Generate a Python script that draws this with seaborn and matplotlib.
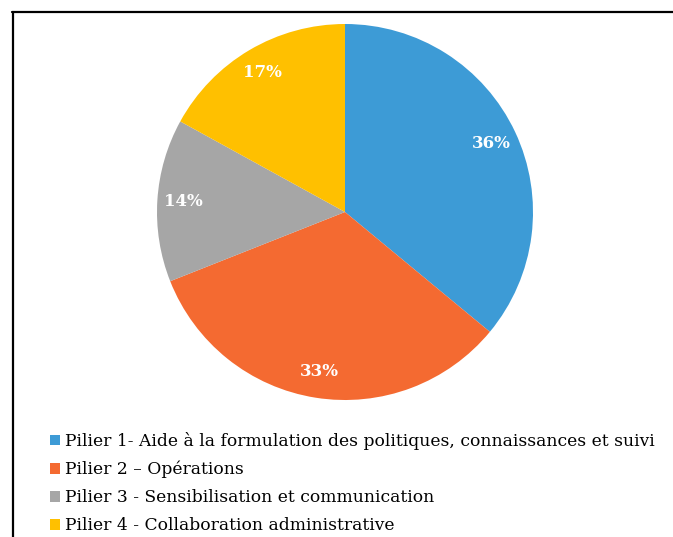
import matplotlib
matplotlib.use("Agg")
import matplotlib.pyplot as plt
from matplotlib.lines import Line2D
import seaborn as sns

labels = ["Pilier 1- Aide à la formulation des politiques, connaissances et suivi",
          "Pilier 2 – Opérations",
          "Pilier 3 - Sensibilisation et communication",
          "Pilier 4 - Collaboration administrative"]
values = [36, 33, 14, 17]
colors = ["#3D9BD6", "#F46A31", "#A6A6A6", "#FFC000"]

sns.set_theme(style="white")
plt.rcParams['font.family'] = ['DejaVu Serif']

W, H = 673, 537
fig = plt.figure(figsize=(W/100, H/100), dpi=100)
cx, cy, r = 345, 212, 188
ax = fig.add_axes([(cx-r)/W, (H-cy-r)/H, 2*r/W, 2*r/H])
pal = sns.color_palette(colors)
wedges, texts, autotexts = ax.pie(values, colors=pal, startangle=90, counterclock=False,
                                  autopct=lambda p: f"{p:.0f}%", pctdistance=0.86,
                                  wedgeprops=dict(linewidth=0))
for t in autotexts:
    t.set_color("white")
    t.set_fontweight("bold")
    t.set_fontsize(12)
ax.set_xlim(-1, 1)
ax.set_ylim(-1, 1)
ax.set_aspect("equal")

leg = fig.legend(wedges, labels, loc="upper left", bbox_to_anchor=(50/W, 1-432/H),
                 frameon=False, fontsize=12.3, handlelength=0.6, handleheight=0.6,
                 handletextpad=0.3, labelspacing=0.64, borderpad=0, borderaxespad=0,
                 labelcolor="black")

fig.add_artist(Line2D([12.5/W, 12.5/W], [1-12/H, 0], color="black", lw=1.6, transform=fig.transFigure))
fig.add_artist(Line2D([12/W, 1], [1-12/H, 1-12/H], color="black", lw=1.6, transform=fig.transFigure))

fig.savefig("out.png", dpi=100)
